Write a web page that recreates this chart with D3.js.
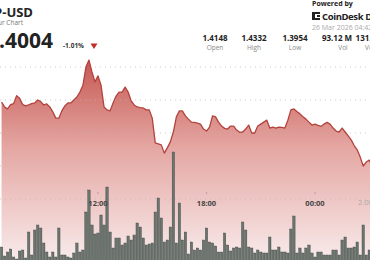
<!DOCTYPE html>
<html>
<head>
<meta charset="utf-8">
<script src="https://cdn.jsdelivr.net/npm/d3@7"></script>
<style>
  html, body { margin: 0; padding: 0; background: #fff; }
  svg { display: block; font-family: "Open Sans", "DejaVu Sans", sans-serif; }
</style>
</head>
<body>
<div id="chart"></div>
<script>
// 10-minute candles, first one at 06:40 on 25 Mar
const startTime = new Date(2026, 2, 25, 6, 40);

const prices = [
  1.4194, 1.4179, 1.4173, 1.4186, 1.4189, 1.4213, 1.4205, 1.4186, 1.4182, 1.4185,
  1.4189, 1.4191, 1.4200, 1.4195, 1.4185, 1.4188, 1.4179, 1.4164, 1.4145, 1.4145,
  1.4167, 1.4182, 1.4191, 1.4191, 1.4200, 1.4209, 1.4224, 1.4245, 1.4300, 1.4321,
  1.4285, 1.4255, 1.4273, 1.4245, 1.4179, 1.4170, 1.4167, 1.4191, 1.4212, 1.4224,
  1.4224, 1.4239, 1.4224, 1.4197, 1.4185, 1.4179, 1.4177, 1.4176, 1.4170, 1.4170,
  1.4145, 1.4070, 1.4067, 1.4064, 1.4039, 1.4055, 1.4073, 1.4103, 1.4149, 1.4167,
  1.4167, 1.4152, 1.4142, 1.4133, 1.4132, 1.4130, 1.4127, 1.4112, 1.4106, 1.4118,
  1.4152, 1.4149, 1.4133, 1.4121, 1.4114, 1.4112, 1.4121, 1.4121, 1.4109, 1.4102,
  1.4103, 1.4112, 1.4124, 1.4100, 1.4100, 1.4121, 1.4127, 1.4133, 1.4139, 1.4115,
  1.4118, 1.4115, 1.4118, 1.4117, 1.4115, 1.4139, 1.4170, 1.4173, 1.4165, 1.4158,
  1.4149, 1.4142, 1.4133, 1.4124, 1.4127, 1.4123, 1.4120, 1.4127, 1.4132, 1.4127,
  1.4115, 1.4106, 1.4103, 1.4115, 1.4103, 1.4091, 1.4079, 1.4062, 1.4049, 1.4027,
  1.4000, 1.4012, 1.4018, 1.3997, 1.3994
];

// volume per candle, thousands
const volumes = [
  300, 120, 200, 260, 100, 60, 220, 240, 80, 600,
  140, 640, 740, 680, 380, 200, 100, 200, 100, 680,
  140, 140, 100, 80, 180, 380, 200, 240, 1000, 1440,
  740, 560, 580, 940, 740, 1500, 600, 280, 480, 480,
  340, 380, 520, 440, 540, 780, 700, 480, 340, 360,
  380, 1000, 1280, 880, 400, 440, 700, 2200, 380, 1180,
  440, 600, 160, 400, 240, 280, 240, 440, 680, 400,
  380, 320, 200, 200, 580, 340, 220, 280, 300, 280,
  800, 640, 300, 280, 180, 240, 200, 180, 180, 500,
  240, 240, 300, 200, 200, 180, 660, 920, 180, 280,
  180, 280, 340, 180, 100, 200, 200, 140, 140, 140,
  240, 240, 140, 440, 500, 280, 280, 300, 400, 140,
  740, 140, 240
];

const gridPrices = [1.43, 1.42, 1.41, 1.40, 1.39];
const timeTicks = [new Date(2026, 2, 25, 12, 0), new Date(2026, 2, 25, 18, 0), new Date(2026, 2, 26, 0, 0)];

const statValues = ["1.4148", "1.4332", "1.3954", "93.12 M", "131.85 M"];
const statLabels = ["Open", "High", "Low", "Vol", "Vol (USD)"];

const W = 370, H = 260;
const svg = d3.select("#chart").append("svg")
  .attr("width", W)
  .attr("height", H);

const step = 10 * 60 * 1000;
const priceData = prices.map((p, i) => ({ t: new Date(+startTime + i * step), p }));
const volData = volumes.map((v, i) => ({ t: new Date(+startTime + i * step), v }));

const x = d3.scaleTime()
  .domain([timeTicks[0], timeTicks[2]])
  .range([98, 315]);
const y = d3.scaleLinear()
  .domain([1.39, 1.43])
  .range([199, 67]);
const yVol = d3.scaleLinear()
  .domain([0, 2400])
  .range([262, 142]);

// area gradient
const defs = svg.append("defs");
const grad = defs.append("linearGradient")
  .attr("id", "fillGrad")
  .attr("gradientUnits", "userSpaceOnUse")
  .attr("x1", 0).attr("y1", 55).attr("x2", 0).attr("y2", 262);
grad.append("stop").attr("offset", 0).attr("stop-color", "#c4544e");
grad.append("stop").attr("offset", 0.45).attr("stop-color", "#e5a7a3");
grad.append("stop").attr("offset", 1).attr("stop-color", "#f8ecec");

const area = d3.area()
  .x(d => x(d.t))
  .y0(262)
  .y1(d => y(d.p));
const line = d3.line()
  .x(d => x(d.t))
  .y(d => y(d.p));

svg.append("path")
  .datum(priceData)
  .attr("d", area)
  .attr("fill", "url(#fillGrad)");

// dotted grid
svg.append("g")
  .selectAll("line")
  .data(gridPrices)
  .join("line")
  .attr("x1", 0).attr("x2", W)
  .attr("y1", d => y(d)).attr("y2", d => y(d))
  .attr("stroke", "#b8b8b8")
  .attr("stroke-opacity", 0.7)
  .attr("stroke-width", 1)
  .attr("stroke-dasharray", "1,4");

svg.append("path")
  .datum(priceData)
  .attr("d", line)
  .attr("fill", "none")
  .attr("stroke", "#b3423c")
  .attr("stroke-width", 1.3)
  .attr("stroke-linejoin", "round");

// volume bars
svg.append("g")
  .selectAll("rect")
  .data(volData)
  .join("rect")
  .attr("x", d => x(d.t) - 1.2)
  .attr("y", d => yVol(d.v))
  .attr("width", 2.4)
  .attr("height", d => yVol(0) - yVol(d.v))
  .attr("fill", "#6b746e")
  .attr("stroke", "#3f4642")
  .attr("stroke-width", 0.4);

// time axis labels
const tAxis = svg.append("g");
tAxis.selectAll("circle")
  .data(timeTicks)
  .join("circle")
  .attr("cx", d => x(d))
  .attr("cy", 193)
  .attr("r", 0.7)
  .attr("fill", "#999");
tAxis.selectAll("text")
  .data(timeTicks)
  .join("text")
  .attr("x", d => x(d))
  .attr("y", 206)
  .attr("text-anchor", "middle")
  .attr("font-size", 7.5)
  .attr("font-weight", "bold")
  .attr("fill", "#444")
  .text(d3.timeFormat("%H:%M"));

svg.append("text")
  .attr("x", 358).attr("y", 205)
  .attr("font-size", 7.5)
  .attr("fill", "#aaa")
  .text("2.00M");

// header
svg.append("text")
  .attr("x", 33).attr("y", 17)
  .attr("text-anchor", "end")
  .attr("font-size", 13).attr("font-weight", "bold").attr("fill", "#222")
  .text("XRP-USD");
svg.append("text")
  .attr("x", 23).attr("y", 25)
  .attr("text-anchor", "end")
  .attr("font-size", 6.5).attr("fill", "#777")
  .text("24 Hour Chart");
svg.append("text")
  .attr("x", 53).attr("y", 48)
  .attr("text-anchor", "end")
  .attr("font-size", 21).attr("font-weight", "bold").attr("fill", "#222")
  .text("1.4004");
svg.append("text")
  .attr("x", 63).attr("y", 48)
  .attr("font-size", 6.5).attr("font-weight", "bold").attr("fill", "#333")
  .text("-1.01%");
svg.append("path")
  .attr("d", "M90.5,43.5 L97.5,43.5 L94,49 Z")
  .attr("fill", "#c0302a");

const statX = [215, 254, 295, 337, 373];
const stats = svg.append("g");
stats.selectAll("text.val")
  .data(statValues)
  .join("text")
  .attr("class", "val")
  .attr("x", (d, i) => statX[i])
  .attr("y", 41)
  .attr("text-anchor", "middle")
  .attr("font-size", 8).attr("font-weight", "bold").attr("fill", "#222")
  .text(d => d);
stats.selectAll("text.lab")
  .data(statLabels)
  .join("text")
  .attr("class", "lab")
  .attr("x", (d, i) => statX[i] + (i >= 3 ? 6 : 0))
  .attr("y", 50)
  .attr("text-anchor", "middle")
  .attr("font-size", 6.5).attr("fill", "#888")
  .text(d => d);

// powered by
svg.append("text")
  .attr("x", 312).attr("y", 6)
  .attr("font-size", 7).attr("font-weight", "bold").attr("fill", "#222")
  .text("Powered by");
const logo = svg.append("g").attr("fill", "#222");
logo.append("rect").attr("x", 312).attr("y", 12).attr("width", 3).attr("height", 8);
logo.append("rect").attr("x", 315).attr("y", 12).attr("width", 5).attr("height", 2);
logo.append("rect").attr("x", 315).attr("y", 18).attr("width", 5).attr("height", 2);
logo.append("rect").attr("x", 317).attr("y", 15).attr("width", 3).attr("height", 2);
svg.append("text")
  .attr("x", 322).attr("y", 19.5)
  .attr("font-size", 9.5).attr("font-weight", "bold").attr("fill", "#222")
  .attr("letter-spacing", -0.4)
  .text("CoinDesk Data");
svg.append("text")
  .attr("x", 312).attr("y", 29.5)
  .attr("font-size", 7).attr("fill", "#aaa")
  .text("26 Mar 2026 04:42");
</script>
</body>
</html>
